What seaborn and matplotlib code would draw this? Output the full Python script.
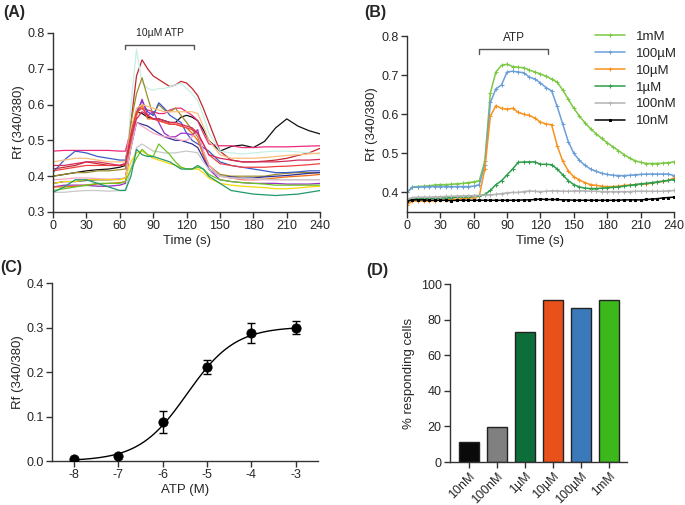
import numpy as np
import pandas as pd
import seaborn as sns
import matplotlib
matplotlib.use("Agg")
import matplotlib.pyplot as plt

sns.set_style("ticks")
plt.rcParams['font.family'] = ['Liberation Sans', 'DejaVu Sans']
plt.rcParams['axes.unicode_minus'] = False
plt.rcParams['axes.linewidth'] = 1.0
plt.rcParams['xtick.major.size'] = 4
plt.rcParams['ytick.major.size'] = 4

# ---- panel A: single cell traces, 10uM ATP ----
time_a = [0, 10, 20, 30, 40, 50, 60, 65, 70, 75, 80, 85, 90, 95, 100, 105, 110, 115,
          120, 125, 130, 135, 140, 150, 160, 170, 180, 190, 200, 210, 220, 230, 240]
cells_a = {
    "c01": [0.42, 0.425, 0.43, 0.44, 0.435, 0.43, 0.43, 0.435, 0.55, 0.68, 0.725, 0.70, 0.68, 0.67, 0.66, 0.65, 0.655,
            0.665, 0.66, 0.645, 0.625, 0.59, 0.55, 0.47, 0.445, 0.44, 0.44, 0.442, 0.445, 0.45, 0.458, 0.465, 0.478],
    "c02": [0.40, 0.405, 0.41, 0.415, 0.418, 0.42, 0.425, 0.43, 0.50, 0.58, 0.575, 0.565, 0.56, 0.56, 0.555, 0.55, 0.55,
            0.565, 0.57, 0.565, 0.555, 0.53, 0.50, 0.47, 0.483, 0.487, 0.48, 0.497, 0.535, 0.56, 0.54, 0.527, 0.518],
    "c03": [0.47, 0.472, 0.472, 0.472, 0.472, 0.472, 0.47, 0.47, 0.53, 0.58, 0.59, 0.585, 0.58, 0.575, 0.575, 0.585, 0.59,
            0.59, 0.58, 0.57, 0.555, 0.52, 0.49, 0.485, 0.485, 0.48, 0.48, 0.482, 0.482, 0.482, 0.483, 0.484, 0.485],
    "c04": [0.37, 0.37, 0.372, 0.372, 0.372, 0.373, 0.375, 0.38, 0.60, 0.755, 0.66, 0.645, 0.64, 0.645, 0.645, 0.65, 0.655,
            0.66, 0.645, 0.63, 0.61, 0.57, 0.52, 0.47, 0.465, 0.462, 0.465, 0.468, 0.47, 0.47, 0.468, 0.465, 0.462],
    "c05": [0.40, 0.405, 0.41, 0.41, 0.415, 0.415, 0.418, 0.42, 0.55, 0.63, 0.675, 0.62, 0.57, 0.60, 0.585, 0.58, 0.59,
            0.57, 0.55, 0.53, 0.51, 0.47, 0.43, 0.405, 0.40, 0.40, 0.40, 0.40, 0.405, 0.408, 0.41, 0.41, 0.41],
    "c06": [0.41, 0.445, 0.47, 0.465, 0.455, 0.45, 0.445, 0.445, 0.52, 0.58, 0.61, 0.58, 0.57, 0.605, 0.59, 0.57, 0.56,
            0.55, 0.52, 0.50, 0.49, 0.48, 0.47, 0.44, 0.43, 0.425, 0.42, 0.415, 0.41, 0.41, 0.412, 0.415, 0.415],
    "c07": [0.37, 0.375, 0.375, 0.375, 0.372, 0.372, 0.375, 0.38, 0.50, 0.57, 0.615, 0.57, 0.58, 0.55, 0.52, 0.51, 0.51,
            0.52, 0.52, 0.515, 0.53, 0.46, 0.42, 0.39, 0.385, 0.382, 0.38, 0.38, 0.38, 0.378, 0.378, 0.378, 0.38],
    "c08": [0.38, 0.385, 0.385, 0.388, 0.39, 0.39, 0.392, 0.395, 0.48, 0.55, 0.545, 0.54, 0.53, 0.52, 0.51, 0.505, 0.50,
            0.50, 0.495, 0.49, 0.48, 0.45, 0.42, 0.40, 0.398, 0.395, 0.395, 0.398, 0.40, 0.402, 0.405, 0.408, 0.41],
    "c09": [0.37, 0.37, 0.372, 0.375, 0.378, 0.38, 0.382, 0.385, 0.50, 0.57, 0.60, 0.56, 0.56, 0.555, 0.55, 0.545, 0.545,
            0.54, 0.535, 0.52, 0.50, 0.46, 0.43, 0.40, 0.395, 0.39, 0.39, 0.392, 0.395, 0.398, 0.40, 0.402, 0.405],
    "c10": [0.44, 0.445, 0.45, 0.45, 0.445, 0.44, 0.44, 0.44, 0.53, 0.59, 0.60, 0.595, 0.59, 0.585, 0.58, 0.58, 0.58,
            0.58, 0.58, 0.58, 0.575, 0.54, 0.50, 0.46, 0.45, 0.45, 0.45, 0.452, 0.455, 0.458, 0.46, 0.462, 0.465],
    "c11": [0.39, 0.392, 0.395, 0.395, 0.393, 0.392, 0.392, 0.395, 0.48, 0.55, 0.54, 0.53, 0.52, 0.515, 0.51, 0.51, 0.505,
            0.50, 0.50, 0.51, 0.52, 0.47, 0.43, 0.40, 0.395, 0.392, 0.39, 0.39, 0.39, 0.39, 0.39, 0.39, 0.39],
    "c12": [0.355, 0.355, 0.358, 0.36, 0.36, 0.358, 0.36, 0.362, 0.42, 0.48, 0.49, 0.48, 0.47, 0.468, 0.465, 0.465, 0.465,
            0.468, 0.47, 0.468, 0.465, 0.44, 0.42, 0.40, 0.395, 0.395, 0.393, 0.392, 0.39, 0.39, 0.39, 0.39, 0.39],
    "c13": [0.38, 0.385, 0.385, 0.39, 0.39, 0.39, 0.39, 0.395, 0.44, 0.465, 0.47, 0.46, 0.45, 0.445, 0.44, 0.435, 0.43,
            0.425, 0.42, 0.42, 0.42, 0.41, 0.395, 0.38, 0.375, 0.372, 0.37, 0.368, 0.365, 0.365, 0.367, 0.37, 0.372],
    "c14": [0.36, 0.365, 0.37, 0.375, 0.38, 0.38, 0.38, 0.385, 0.42, 0.45, 0.475, 0.46, 0.455, 0.49, 0.475, 0.46, 0.44,
            0.425, 0.42, 0.42, 0.425, 0.42, 0.405, 0.39, 0.385, 0.382, 0.38, 0.378, 0.375, 0.375, 0.375, 0.375, 0.375],
    "c15": [0.355, 0.37, 0.39, 0.39, 0.38, 0.37, 0.36, 0.36, 0.40, 0.475, 0.46, 0.455, 0.455, 0.45, 0.445, 0.44, 0.43,
            0.42, 0.42, 0.42, 0.43, 0.42, 0.40, 0.38, 0.36, 0.355, 0.35, 0.348, 0.346, 0.348, 0.35, 0.355, 0.36],
    "c16": [0.415, 0.42, 0.425, 0.43, 0.43, 0.43, 0.43, 0.432, 0.52, 0.58, 0.59, 0.57, 0.56, 0.555, 0.55, 0.545, 0.545,
            0.54, 0.535, 0.53, 0.52, 0.49, 0.46, 0.435, 0.43, 0.425, 0.425, 0.425, 0.427, 0.428, 0.43, 0.432, 0.435],
    "c17": [0.43, 0.43, 0.435, 0.44, 0.44, 0.435, 0.43, 0.435, 0.51, 0.56, 0.58, 0.57, 0.56, 0.56, 0.555, 0.55, 0.55,
            0.545, 0.54, 0.535, 0.52, 0.49, 0.46, 0.45, 0.445, 0.44, 0.44, 0.44, 0.44, 0.442, 0.445, 0.445, 0.447],
}
cell_colors = ["#c1272d", "#111111", "#ee2a7b", "#c6efe6", "#9c8c2a", "#3a5cc8", "#9b30c8", "#2e2e9a",
               "#f26b12", "#fbbf7c", "#f7a6c6", "#c8c8c8", "#f5d90a", "#6cc420", "#1f9a6a", "#f04040", "#d42a5a"]

# ---- panel B: mean traces per ATP concentration ----
time_b = list(range(0, 245, 5))
doses_b = ["1mM", "100µM", "10µM", "1µM", "100nM", "10nM"]
mean_1mM = [0.400, 0.414, 0.415, 0.416, 0.417, 0.419, 0.420, 0.420, 0.421, 0.422, 0.423, 0.425, 0.427, 0.430,
            0.480, 0.655, 0.708, 0.725, 0.728, 0.722, 0.720, 0.719, 0.713, 0.708, 0.703, 0.697, 0.690, 0.682,
            0.662, 0.638, 0.615, 0.595, 0.578, 0.563, 0.550, 0.538, 0.527, 0.517, 0.507, 0.497, 0.488, 0.481,
            0.477, 0.474, 0.474, 0.474, 0.475, 0.476, 0.478]
mean_100uM = [0.400, 0.413, 0.414, 0.414, 0.415, 0.415, 0.415, 0.415, 0.415, 0.415, 0.415, 0.415, 0.416, 0.420,
              0.470, 0.630, 0.665, 0.675, 0.708, 0.710, 0.708, 0.706, 0.695, 0.690, 0.680, 0.668, 0.660, 0.620,
              0.575, 0.530, 0.500, 0.482, 0.469, 0.460, 0.454, 0.449, 0.446, 0.444, 0.443, 0.443, 0.444, 0.445,
              0.446, 0.447, 0.447, 0.447, 0.447, 0.447, 0.443]
mean_10uM = [0.368, 0.378, 0.378, 0.378, 0.378, 0.379, 0.380, 0.381, 0.382, 0.383, 0.384, 0.385, 0.387, 0.390,
             0.460, 0.595, 0.622, 0.615, 0.613, 0.615, 0.605, 0.600, 0.597, 0.590, 0.580, 0.575, 0.573, 0.520,
             0.480, 0.455, 0.440, 0.432, 0.425, 0.420, 0.418, 0.416, 0.415, 0.415, 0.416, 0.418, 0.419, 0.420,
             0.421, 0.422, 0.424, 0.426, 0.428, 0.431, 0.437]
mean_1uM = [0.380, 0.383, 0.384, 0.384, 0.385, 0.385, 0.386, 0.386, 0.387, 0.388, 0.389, 0.389, 0.390, 0.391,
            0.395, 0.405, 0.420, 0.430, 0.445, 0.460, 0.477, 0.478, 0.478, 0.478, 0.472, 0.472, 0.471, 0.460,
            0.445, 0.430, 0.420, 0.414, 0.411, 0.410, 0.410, 0.411, 0.412, 0.413, 0.414, 0.416, 0.418, 0.420,
            0.422, 0.423, 0.425, 0.427, 0.429, 0.431, 0.433]
mean_100nM = [0.383, 0.387, 0.388, 0.388, 0.388, 0.389, 0.389, 0.390, 0.390, 0.391, 0.391, 0.392, 0.392, 0.393,
              0.393, 0.394, 0.395, 0.397, 0.399, 0.400, 0.400, 0.402, 0.404, 0.403, 0.402, 0.403, 0.404, 0.404,
              0.403, 0.403, 0.404, 0.404, 0.404, 0.403, 0.403, 0.402, 0.402, 0.402, 0.402, 0.402, 0.402, 0.403,
              0.403, 0.403, 0.403, 0.403, 0.403, 0.404, 0.405]
mean_10nM = [0.377, 0.381, 0.381, 0.381, 0.380, 0.380, 0.380, 0.380, 0.379, 0.380, 0.380, 0.380, 0.380, 0.380,
             0.380, 0.380, 0.380, 0.380, 0.380, 0.380, 0.380, 0.381, 0.381, 0.382, 0.383, 0.382, 0.382, 0.382,
             0.381, 0.381, 0.380, 0.380, 0.380, 0.380, 0.380, 0.380, 0.380, 0.380, 0.380, 0.381, 0.381, 0.381,
             0.381, 0.382, 0.383, 0.384, 0.386, 0.387, 0.388]
colors_b = ["#7ac943", "#6a9fd8", "#f7931e", "#2e9e4c", "#b3b3b3", "#000000"]

# ---- panel C: dose response ----
log_atp = [-8, -7, -6, -5, -4, -3]
delta_rf = [0.004, 0.012, 0.088, 0.212, 0.288, 0.300]
delta_err = [0.0, 0.0, 0.024, 0.016, 0.022, 0.015]
hill_top, hill_logec50, hill_slope = 0.302, -5.45, 0.8

# ---- panel D: responding cells ----
doses_d = ["10nM", "100nM", "1µM", "10µM", "100µM", "1mM"]
pct_resp = [11.1, 19.7, 73.1, 90.8, 86.7, 91.2]
colors_d = ["#0a0a0a", "#808080", "#0d6e3a", "#e8521a", "#3a7aba", "#3cb81c"]

fig = plt.figure(figsize=(6.85, 5.05), dpi=100)
axA = fig.add_axes([0.0774, 0.5802, 0.390, 0.3545])
axB = fig.add_axes([0.594, 0.5802, 0.390, 0.3485])
axC = fig.add_axes([0.0759, 0.0871, 0.388, 0.3525])
axD = fig.add_axes([0.657, 0.0851, 0.258, 0.3525])

fs = 9      # tick labels
fl = 9.5    # axis labels

# A
dfa = pd.DataFrame(cells_a)
dfa["time"] = time_a
dfa = dfa.melt(id_vars="time", var_name="cell", value_name="rf")
sns.lineplot(data=dfa, x="time", y="rf", hue="cell", palette=cell_colors, lw=0.9,
             legend=False, ax=axA)
axA.set_xlim(0, 240)
axA.set_ylim(0.3, 0.8)
axA.set_xticks(range(0, 241, 30))
axA.set_yticks([0.3, 0.4, 0.5, 0.6, 0.7, 0.8])
axA.set_xlabel("Time (s)", fontsize=fl, labelpad=2)
axA.set_ylabel("Rf (340/380)", fontsize=fl, labelpad=2)
axA.plot([65, 65, 127, 127], [0.755, 0.767, 0.767, 0.755], color="#555555", lw=1, clip_on=False)
axA.text(96, 0.80, "10µM ATP", ha="center", va="center", fontsize=7.5)

# B
dfb = pd.DataFrame({"time": time_b * 6,
                    "rf": mean_1mM + mean_100uM + mean_10uM + mean_1uM + mean_100nM + mean_10nM,
                    "dose": [d for d in doses_b for _ in time_b]})
for d, c in zip(doses_b, colors_b):
    mk = "s" if d == "10nM" else "+"
    ms = 2 if d == "10nM" else 3
    sns.lineplot(data=dfb[dfb.dose == d], x="time", y="rf", color=c, lw=1.1,
                 marker=mk, markersize=ms, markeredgecolor=c, label=d, ax=axB)
axB.set_xlim(0, 240)
axB.set_ylim(0.35, 0.8)
axB.set_xticks(range(0, 241, 30))
axB.set_yticks([0.4, 0.5, 0.6, 0.7, 0.8])
axB.set_xlabel("Time (s)", fontsize=fl, labelpad=2)
axB.set_ylabel("Rf (340/380)", fontsize=fl, labelpad=2)
axB.plot([65, 65, 127, 127], [0.755, 0.766, 0.766, 0.755], color="#555555", lw=1, clip_on=False)
axB.text(96, 0.796, "ATP", ha="center", va="center", fontsize=8.5)
axB.legend(loc="upper right", bbox_to_anchor=(1.03, 1.06), frameon=False, fontsize=fl,
           handlelength=2.3, labelspacing=0.35, borderaxespad=0)

# C
xs = np.linspace(-8, -3, 200)
axC.plot(xs, hill_top / (1 + 10 ** ((hill_logec50 - xs) * hill_slope)), color="black", lw=1)
axC.errorbar(log_atp, delta_rf, yerr=delta_err, fmt="none", ecolor="black", elinewidth=1,
             capsize=3, capthick=1)
sns.scatterplot(x=log_atp, y=delta_rf, color="black", s=45, edgecolor="black", zorder=3, ax=axC)
axC.set_xlim(-8.5, -2.5)
axC.set_ylim(0, 0.4)
axC.set_xticks(log_atp)
axC.set_yticks([0.0, 0.1, 0.2, 0.3, 0.4])
axC.set_xlabel("ATP (M)", fontsize=fl, labelpad=2)
axC.set_ylabel("Rf (340/380)", fontsize=fl, labelpad=2)

# D
sns.barplot(x=doses_d, y=pct_resp, hue=doses_d, palette=colors_d, width=0.69, saturation=1,
            edgecolor="#222222", linewidth=1, legend=False, ax=axD)
axD.set_xlim(-0.68, 5.64)
axD.set_ylim(0, 100)
axD.set_yticks(range(0, 101, 20))
axD.set_ylabel("% responding cells", fontsize=fl, labelpad=4)
axD.set_xlabel("")
plt.setp(axD.get_xticklabels(), rotation=45, ha="right", rotation_mode="anchor")

for ax in (axA, axB, axC, axD):
    sns.despine(ax=ax)
    ax.tick_params(labelsize=fs, width=1, color="#333333", pad=2)
    for s in ("left", "bottom"):
        ax.spines[s].set_color("#333333")

for lab, x, y in [("(A)", 0.005, 0.975), ("(B)", 0.532, 0.975), ("(C)", 0.0, 0.47), ("(D)", 0.535, 0.465)]:
    fig.text(x, y, lab, fontsize=11.5, fontweight="bold", va="center")

fig.savefig("out.png", dpi=100)
